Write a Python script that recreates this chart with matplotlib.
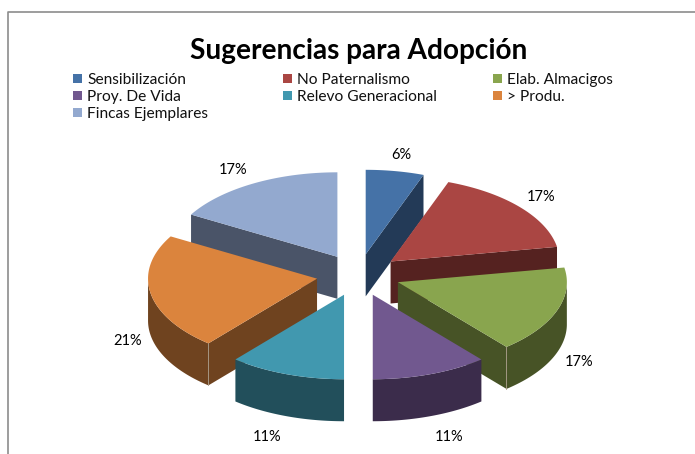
"""Exploded 3D-look pie of adoption suggestions, projected by hand onto a pixel-sized axes."""

import numpy as np
import matplotlib
matplotlib.use("Agg")
import matplotlib.pyplot as plt
from matplotlib.patches import Polygon, Rectangle

TITLE = "Sugerencias para Adopción"
categories = ["Sensibilización", "No Paternalismo", "Elab. Almacigos", "Proy. De Vida",
              "Relevo Generacional", "> Produ.", "Fincas Ejemplares"]
# slice sizes (20 degree steps)
shares = [1, 3, 3, 2, 2, 4, 3]
pct_labels = ["6%", "17%", "17%", "11%", "11%", "21%", "17%"]

top_colors = ["#4572A7", "#AA4643", "#89A54E", "#71588F", "#4198AF", "#DB843D", "#93A9CF"]
wall_colors = ["#233A57", "#552220", "#475326", "#3B2C4B", "#224F5B", "#6F431F", "#4A5468"]

# projection of the pie, in image pixels
CX, CY = 358.4, 275.0
RX, RY = 169.0, 84.5
EXPLODE = 42.0
DEPTH = 42.0
LABEL_XY = [(401, 155), (541, 197), (579, 362), (449, 437), (267, 437), (128, 341), (233, 170)]
DRAW_ORDER = [6, 0, 1, 2, 5, 4, 3]  # back slices first
RIM_CORNER = {2: -1, 5: 0}  # slices with a light vertical seam on the rim


def project(theta):
    """Angle clockwise from 12 o'clock (radians) to a point relative to the apex."""
    return np.column_stack([RX * np.sin(theta), -RY * np.cos(theta)])


plt.rcParams["font.family"] = ["Lato", "DejaVu Sans"]

fig = plt.figure(figsize=(6.95, 4.54), dpi=100)
ax = fig.add_axes([0, 0, 1, 1])
ax.set_xlim(0, 695)
ax.set_ylim(454, 0)
ax.axis("off")

# chart frame, only top and left fall inside the crop
ax.plot([7.5, 7.5, 695], [454, 11.5, 11.5], color="#8c8c8c", lw=1.2, solid_capstyle="butt")

edges = 2 * np.pi * np.cumsum([0] + shares) / sum(shares)
down = np.array([0, DEPTH])
for rank, i in enumerate(DRAW_ORDER):
    z = 10 + 10 * rank
    t0, t1 = edges[i], edges[i + 1]
    mid = (t0 + t1) / 2
    apex = np.array([CX, CY]) + EXPLODE * np.array([np.sin(mid), -np.cos(mid) / 2])
    arc_t = np.linspace(t0, t1, 80)
    arc = apex + project(arc_t)

    # radial walls that face the viewer
    for t, visible in ((t0, np.sin(t0) < -1e-6), (t1, np.sin(t1) > 1e-6)):
        if visible:
            rim = apex + project(np.array([t]))[0]
            ax.add_patch(Polygon([apex, rim, rim + down, apex + down],
                                 fc=wall_colors[i], ec="none", zorder=z))
    # outer rim, front half of the ellipse only
    front = arc[np.cos(arc_t) < 0]
    if len(front) > 1:
        ax.add_patch(Polygon(np.vstack([front, (front + down)[::-1]]),
                             fc=wall_colors[i], ec="none", zorder=z))
        if i in RIM_CORNER:
            corner = front[RIM_CORNER[i]]
            ax.plot([corner[0]] * 2, [corner[1], corner[1] + DEPTH], color="#a89a88", lw=0.6, zorder=z + 1)
    ax.add_patch(Polygon(np.vstack([apex, arc]), fc=top_colors[i], ec="none", zorder=z + 2))

for (x, y), s in zip(LABEL_XY, pct_labels):
    ax.text(x, y, s, ha="center", va="center", fontsize=10.5, color="black", zorder=200)

ax.text(358.5, 51, TITLE, ha="center", va="center", fontsize=20.2, fontweight="bold", zorder=200)

# legend, three columns
col_x = [73, 283, 493]
row_y = [80, 97, 114]
for i, name in enumerate(categories):
    x, y = col_x[i % 3], row_y[i // 3]
    ax.add_patch(Rectangle((x, y - 6), 9, 9, fc=top_colors[i], ec="none", zorder=200))
    ax.text(x + 14, y, name, ha="left", va="center", fontsize=11.2, color="#111111", zorder=200)

fig.savefig("out.png", dpi=100)
